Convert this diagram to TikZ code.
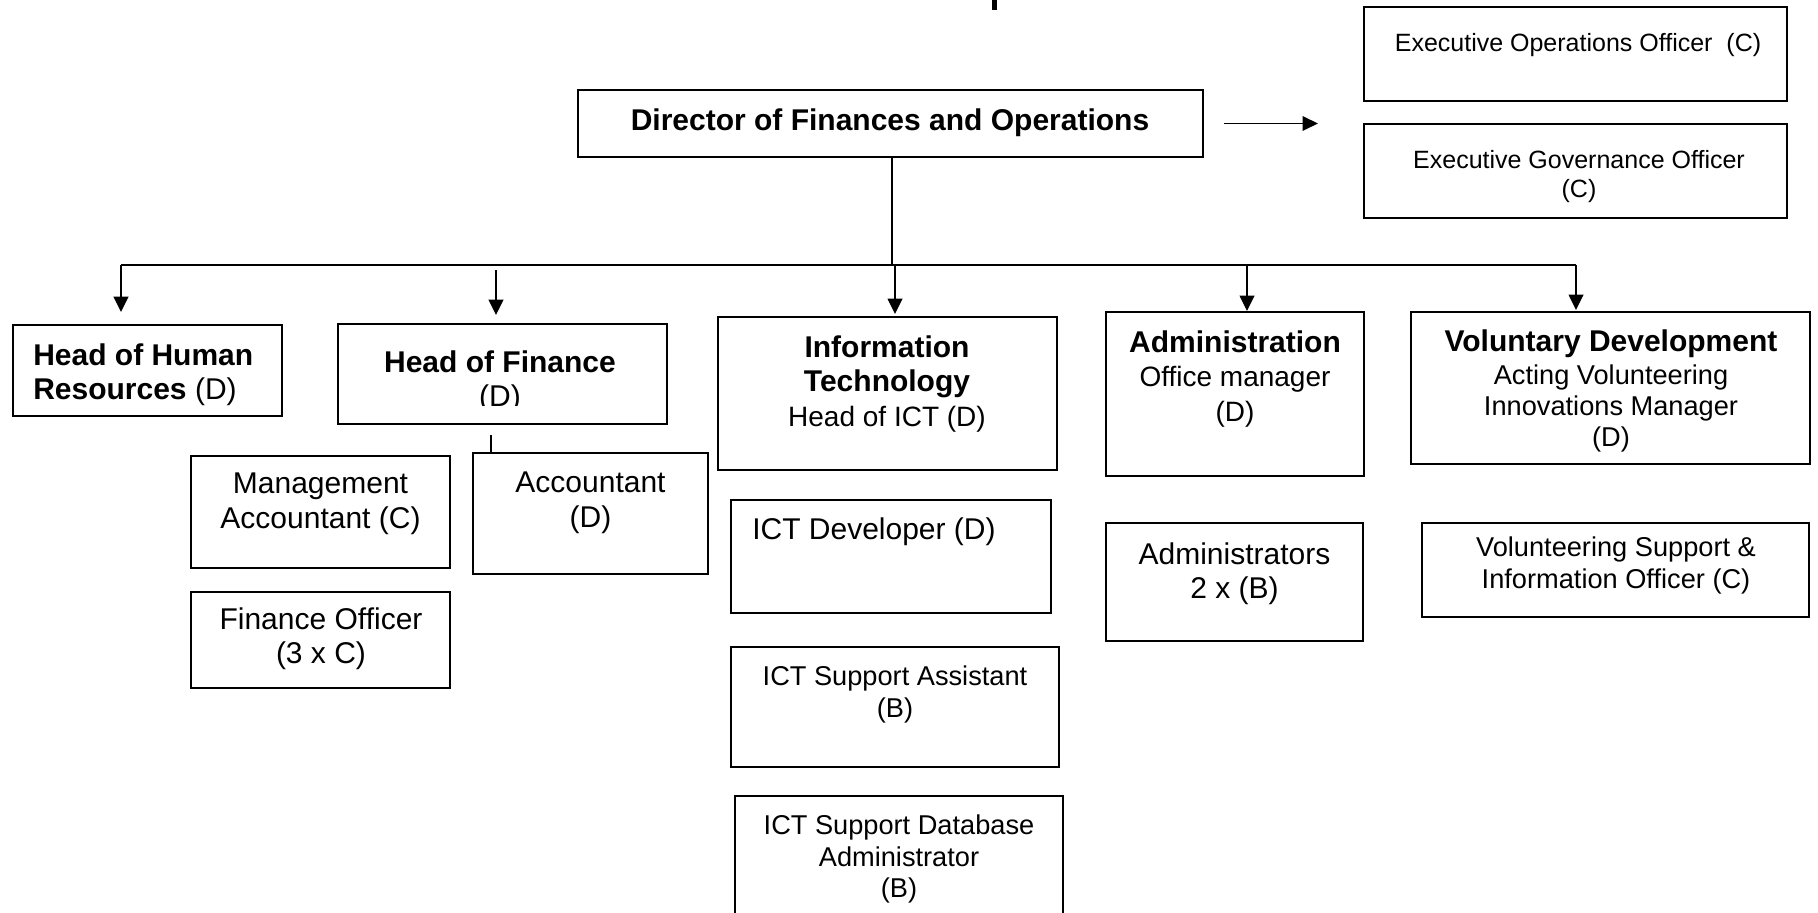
\documentclass[tikz,border=0pt]{standalone}
\usepackage{fontspec}
\setmainfont{Liberation Sans}
\usetikzlibrary{arrows.meta}
\newcommand\szA{\fontsize{22.5pt}{25.9pt}\selectfont}
\newcommand\szB{\fontsize{21pt}{24.2pt}\selectfont}
\newcommand\szC{\fontsize{20.4pt}{23.3pt}\selectfont}
\newcommand\szD{\fontsize{18.75pt}{21.6pt}\selectfont}
\newcommand\orgbox[5]{\node[box, minimum width={(#4-#2)*0.75pt}, minimum height={(#5-#3)*0.75pt}] (#1) at ({(#2+#4)/2},{(#3+#5)/2}) {};}
\tikzset{
  box/.style={draw=black, line width=1.3pt, rectangle, inner sep=0pt, fill=none},
  txt/.style={inner sep=0pt, align=center, font=\szA, anchor=north},
  conn/.style={draw=black, line width=1.2pt},
  arr/.style={conn, -{Triangle[length=11.5pt, width=11pt]}}
}
\begin{document}
\begin{tikzpicture}[x=0.75pt, y=-0.75pt]
\useasboundingbox (0,0) rectangle (1818,913);
\clip (0,0) rectangle (1818,913);
\fill[white] (0,0) rectangle (1818,913);
% cut-off fragment at top
\fill[black] (992,0) rectangle (997,10);

% boxes
\orgbox{dir}{578}{90}{1203}{157}
\orgbox{eoo}{1364}{7}{1787}{101}
\orgbox{ego}{1364}{124}{1787}{218}
\orgbox{hohr}{13}{325}{282}{416}
\orgbox{hof}{338}{324}{667}{424}
\orgbox{it}{718}{317}{1057}{470}
\orgbox{adm}{1106}{312}{1364}{476}
\orgbox{vol}{1411}{312}{1810}{464}
\orgbox{mgmt}{191}{456}{450}{568}
\orgbox{acct}{473}{453}{708}{574}
\orgbox{fin}{191}{592}{450}{688}
\orgbox{ictdev}{731}{500}{1051}{613}
\orgbox{ictsa}{731}{647}{1059}{767}
\orgbox{ictdb}{735}{796}{1063}{940}
\orgbox{admins}{1106}{523}{1363}{641}
\orgbox{volsup}{1422}{523}{1809}{617}

% texts
\node[txt] (dirT) at (890,108) {\bfseries Director of Finances and Operations};
\node[txt, font=\szD] (eooT) at (1578,33) {Executive Operations Officer\ \ (C)};
\node[txt, font=\szD] (egoT) at (1579,150) {Executive Governance Officer\\(C)};
\node[txt, anchor=north west, align=left] (hohrT) at (33,343) {{\bfseries Head of Human}\\{\bfseries Resources} (D)};
\begin{scope}
\clip (338,324) rectangle (667,405);
\node[txt] (hofT) at (500,350) {{\bfseries Head of Finance}\\(D)};
\end{scope}
\node[txt] (itT) at (887,335) {{\bfseries Information}\\{\bfseries Technology}\\{\szB Head of ICT (D)}};
\node[txt] (admT) at (1235,330) {{\bfseries Administration}\\{\szB Office manager}\\{\szB (D)}};
\node[txt, font=\szC] (volT) at (1611,329) {{\szA\bfseries Voluntary Development}\\[2pt]Acting Volunteering\\Innovations Manager\\(D)};
\node[txt] (mgmtT) at (320.5,473) {Management\\Accountant (C)};
\node[txt] (acctT) at (590.5,472) {Accountant\\(D)};
\node[txt] (finT) at (321,607) {Finance Officer\\(3 x C)};
\node[txt, anchor=north west] (ictdevT) at (752,517) {ICT Developer (D)};
\node[txt, font=\szC] (ictsaT) at (895,666) {ICT Support Assistant\\(B)};
\node[txt, font=\szC] (ictdbT) at (899,815) {ICT Support Database\\Administrator\\(B)};
\node[txt] (adminsT) at (1234.5,542) {Administrators\\2 x (B)};
\node[txt, font=\szC] (volsupT) at (1616,537) {Volunteering Support \&\\Information Officer (C)};

% connectors
\coordinate (bL) at (121,265);
\coordinate (bR) at (1576,265);
\draw[conn] (dir.south -| 892,0) -- (892,265);
\draw[conn] (bL) -- (bR);
\draw[conn, line width=1.8pt] (1270,265) -- (1371,265);
\draw[arr] (bL) -- (121,312);
\draw[arr] (496,270) -- (496,315);
\draw[arr] (895,265) -- (895,314);
\draw[arr] (1247,265) -- (1247,311);
\draw[arr] (bR) -- (1576,310);
\draw[arr] ([xshift=15pt]dir.east) -- ++(94,0);
\draw[conn] ([xshift=14.25pt]acct.north west) -- ++(0,-17);
\end{tikzpicture}
\end{document}
